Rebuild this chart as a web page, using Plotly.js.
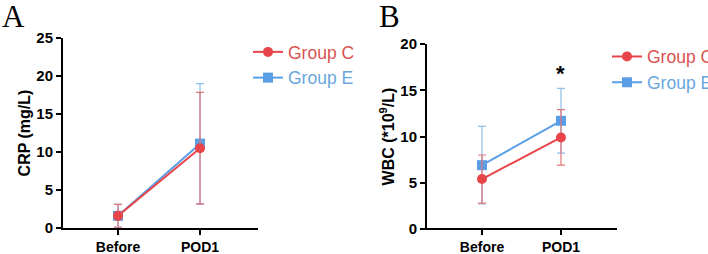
<!DOCTYPE html>
<html><head><meta charset="utf-8">
<script src="https://cdn.plot.ly/plotly-3.0.1.min.js"></script>
<style>html,body{margin:0;padding:0;background:#fff}#c{width:708px;height:254px}</style>
</head><body><div id="c"></div>
<script>
var categories = ['Before', 'POD1'];
var groupNames = ['Group C', 'Group E'];
// Panel A: CRP (mg/L)
var crpC = [1.6, 10.5];
var crpCsd = [1.5, 7.35];
var crpE = [1.6, 11.1];
var crpEsd = [1.5, 7.9];
// Panel B: WBC (*10^9/L)
var wbcC = [5.4, 9.9];
var wbcCsd = [2.6, 3.0];
var wbcE = [6.9, 11.7];
var wbcEsd = [4.2, 3.5];
var yTicksA = [0, 5, 10, 15, 20, 25];
var yTicksB = [0, 5, 10, 15, 20];
var sigLabel = '*';

var red = '#E8454A', blue = '#5A9EE6';
var redErr = '#E27478', blueErr = '#8DBDE8';
var redTxt = '#D9534F', blueTxt = '#6AA6DC';

function tr(y, sd, name, color, ecol, sym, xa, ya, lg, txtc) {
  return {
    x: categories, y: y, name: '<span style="color:' + txtc + '">' + name + '</span>',
    type: 'scatter', mode: 'lines+markers', xaxis: xa, yaxis: ya, legend: lg,
    line: {color: color, width: 2},
    marker: {color: color, size: 10, symbol: sym},
    error_y: {type: 'data', array: sd, symmetric: true, color: ecol, thickness: 1.2, width: 4},
    cliponaxis: true
  };
}
var data = [
  tr(crpE, crpEsd, groupNames[1], blue, blueErr, 'square', 'x', 'y', 'legend', blueTxt),
  tr(crpC, crpCsd, groupNames[0], red, redErr, 'circle', 'x', 'y', 'legend', redTxt),
  tr(wbcE, wbcEsd, groupNames[1], blue, blueErr, 'square', 'x2', 'y2', 'legend2', blueTxt),
  tr(wbcC, wbcCsd, groupNames[0], red, redErr, 'circle', 'x2', 'y2', 'legend2', redTxt)
];

var tickFont = {family: 'Liberation Sans, Arial, sans-serif', size: 14, color: '#000', weight: 'bold'};
var yTickFont = {family: 'Liberation Sans, Arial, sans-serif', size: 15, color: '#000', weight: 'bold'};
var titleFont = {family: 'Liberation Sans, Arial, sans-serif', size: 16, color: '#000', weight: 'bold'};
function xax(domain, range) {
  return {domain: domain, type: 'category', range: range, showline: true, linecolor: '#000', linewidth: 2,
    ticks: 'outside', ticklen: 5, tickwidth: 2, tickcolor: '#000', tickfont: tickFont,
    showgrid: false, zeroline: false, fixedrange: true, automargin: false};
}
function yax(domain, range, tv, title, anchor) {
  return {domain: domain, range: range, anchor: anchor, showline: true, linecolor: '#000', linewidth: 2,
    ticks: 'outside', ticklen: 5, tickwidth: 2, tickcolor: '#000', tickfont: yTickFont,
    tickvals: tv, showgrid: false, zeroline: false, automargin: false,
    title: {text: title, font: titleFont, standoff: 2}};
}
var legFont = {family: 'Liberation Sans, Arial, sans-serif', size: 17.5, color: '#000'};
var layout = {
  width: 708, height: 254, margin: {l: 0, r: 0, t: 0, b: 0, autoexpand: false},
  paper_bgcolor: '#fff', plot_bgcolor: '#fff', showlegend: true,
  xaxis: xax([63/708, 258/708], [-0.671, 1.707]),
  yaxis: yax([26/254, 216/254], [0, 25], yTicksA, '<b>CRP (mg/L)</b>', 'x'),
  xaxis2: xax([427/708, 617/708], [-0.696, 1.709]),
  yaxis2: yax([25/254, 210/254], [0, 20], yTicksB, '<b>WBC (*10<sup>9</sup>/L)</b>', 'x2'),
  legend: {x: 248/708, y: 1 - 34/254, xanchor: 'left', yanchor: 'top', font: legFont, traceorder: 'reversed', bgcolor: 'rgba(0,0,0,0)', itemwidth: 30},
  legend2: {x: 607/708, y: 1 - 38.5/254, xanchor: 'left', yanchor: 'top', font: legFont, traceorder: 'reversed', bgcolor: 'rgba(0,0,0,0)', itemwidth: 30},
  annotations: [
    {text: 'A', xref: 'paper', yref: 'paper', x: 0, y: 1.0, yshift: 3, xanchor: 'left', yanchor: 'top', showarrow: false,
      font: {family: 'Liberation Serif, Times New Roman, serif', size: 31, color: '#000'}},
    {text: 'B', xref: 'paper', yref: 'paper', x: 377/708, y: 1.0, yshift: 3, xanchor: 'left', yanchor: 'top', showarrow: false,
      font: {family: 'Liberation Serif, Times New Roman, serif', size: 31, color: '#000'}},
    {text: sigLabel, xref: 'x2', yref: 'y2', x: categories[1], y: 16.8, showarrow: false,
      font: {family: 'Liberation Sans, Arial, sans-serif', size: 22, color: '#000', weight: 'bold'}}
  ]
};
Plotly.newPlot('c', data, layout, {staticPlot: true});
</script></body></html>
